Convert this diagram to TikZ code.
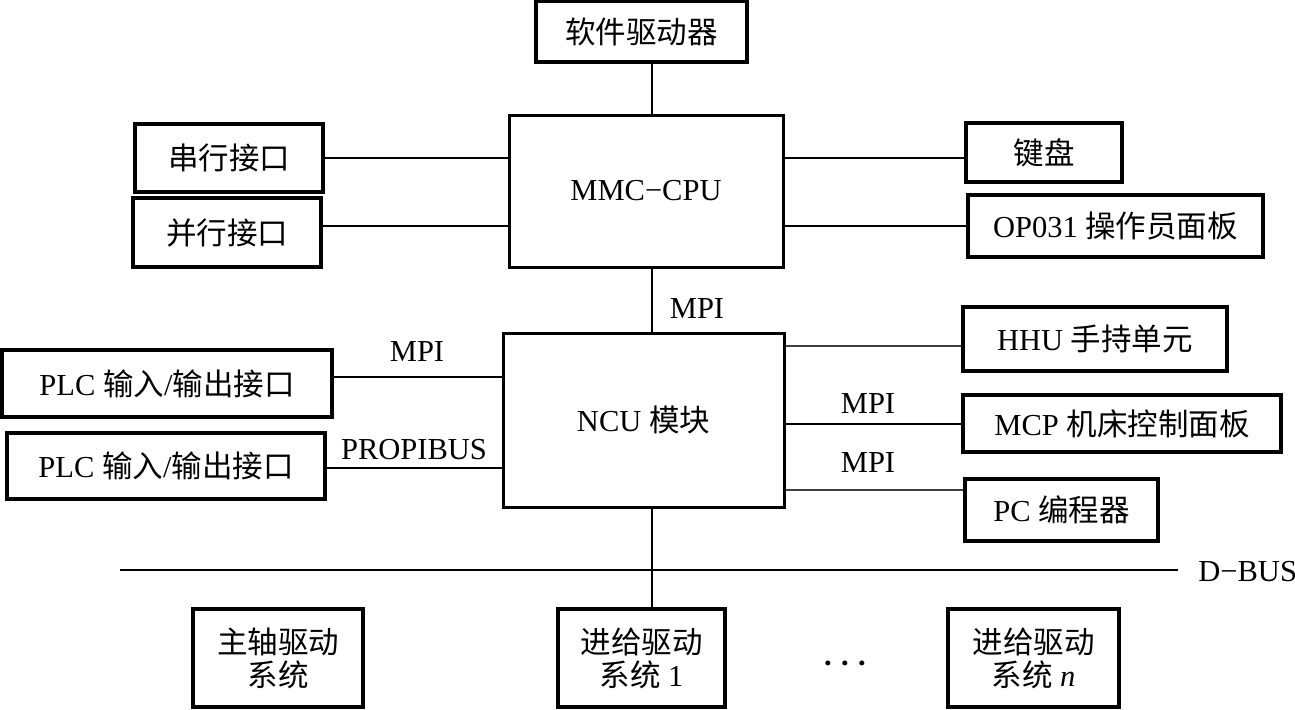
\documentclass[tikz,border=0pt]{standalone}
\usepackage{fontspec}
\setmainfont{Liberation Serif}
\newfontfamily\cjk{Noto Sans CJK SC}
\begin{document}
\begin{tikzpicture}[x=0.5pt,y=-0.5pt,
  txt/.style={font=\fontsize{15.25}{16.5}\selectfont, inner sep=0pt},
  box/.style={txt, draw, line width=1.8pt, align=center},
  bigbox/.style={box, line width=1.5pt},
  conn/.style={line width=1pt},
  thinconn/.style={line width=0.7pt, black!75}]
\useasboundingbox (0,0) rectangle (1295,709);
% boxes
\node[box, minimum width=105.5pt, minimum height=30.5pt] (sw) at (641.5,31.5) {{\cjk 软件驱动器}};
\node[bigbox, minimum width=137pt, minimum height=76pt] (mmc) at (646,191) {MMC−CPU};
\node[box, minimum width=94pt, minimum height=34pt] (ser) at (229,158) {{\cjk 串行接口}};
\node[box, minimum width=94pt, minimum height=34.5pt] (par) at (227,232.5) {{\cjk 并行接口}};
\node[box, minimum width=78pt, minimum height=29.5pt] (kb) at (1044,152.5) {{\cjk 键盘}};
\node[box, minimum width=147.5pt, minimum height=31pt] (op) at (1115.5,226) {OP031 {\cjk 操作员面板}};
\node[bigbox, minimum width=140.5pt, minimum height=87pt] (ncu) at (643.5,420) {NCU {\cjk 模块}};
\node[box, minimum width=165pt, minimum height=33.5pt] (plc1) at (167,383.5) {PLC {\cjk 输入}/{\cjk 输出接口}};
\node[box, minimum width=159pt, minimum height=33pt] (plc2) at (166,466) {PLC {\cjk 输入}/{\cjk 输出接口}};
\node[box, minimum width=132pt, minimum height=32pt] (hhu) at (1095,339) {HHU {\cjk 手持单元}};
\node[box, minimum width=159pt, minimum height=28.5pt] (mcp) at (1122,423.5) {MCP {\cjk 机床控制面板}};
\node[box, minimum width=96.5pt, minimum height=31pt] (pc) at (1061.5,510) {PC {\cjk 编程器}};
\node[box, minimum width=85pt, minimum height=49pt] (sp) at (278,658) {{\cjk 主轴驱动}\\{\cjk 系统}};
\node[box, minimum width=83.5pt, minimum height=49pt] (f1) at (641.5,658) {{\cjk 进给驱动}\\{\cjk 系统} 1};
\node[box, minimum width=85.5pt, minimum height=49pt] (fn) at (1033.5,658) {{\cjk 进给驱动}\\{\cjk 系统} \textit{n}};
\node[txt, anchor=base] (dots) at (845,665) {\textbf{.}\hspace{4.7pt}\textbf{.}\hspace{4.7pt}\textbf{.}};
% labels
\node[txt] (l1) at (697,309) {MPI};
\node[txt] (l2) at (417,352) {MPI};
\node[txt] (l3) at (414,450) {PROPIBUS};
\node[txt] (l4) at (868,404) {MPI};
\node[txt] (l5) at (868,463) {MPI};
% bus
\coordinate (vx) at (652,0);
\coordinate (busL) at (120,570);
\coordinate (busR) at (1178,570);
\node[txt, anchor=west] (dbus) at (1198,572) {D−BUS};
\draw[conn] (busL) -- (busR);
% connectors
\draw[conn] (sw.south -| vx) -- (mmc.north -| vx);
\draw[conn] (mmc.south -| vx) -- (ncu.north -| vx);
\draw[conn] (ncu.south -| vx) -- (f1.north -| vx);
\draw[conn] (ser.east) -- (ser.east -| mmc.west);
\draw[conn] ([yshift=3.25pt]par.east) -- ([yshift=3.25pt]par.east -| mmc.west);
\draw[conn] ([yshift=-2.75pt]kb.west) -- ([yshift=-2.75pt]kb.west -| mmc.east);
\draw[conn] (op.west) -- (op.west -| mmc.east);
\draw[conn] ([yshift=3.25pt]plc1.east) -- ([yshift=3.25pt]plc1.east -| ncu.west);
\draw[conn] ([yshift=-1pt]plc2.east) -- ([yshift=-1pt]plc2.east -| ncu.west);
\draw[thinconn] ([yshift=-3.5pt]hhu.west) -- ([yshift=-3.5pt]hhu.west -| ncu.east);
\draw[conn] (mcp.west) -- (mcp.west -| ncu.east);
\draw[thinconn] ([yshift=10pt]pc.west) -- ([yshift=10pt]pc.west -| ncu.east);
\end{tikzpicture}
\end{document}
